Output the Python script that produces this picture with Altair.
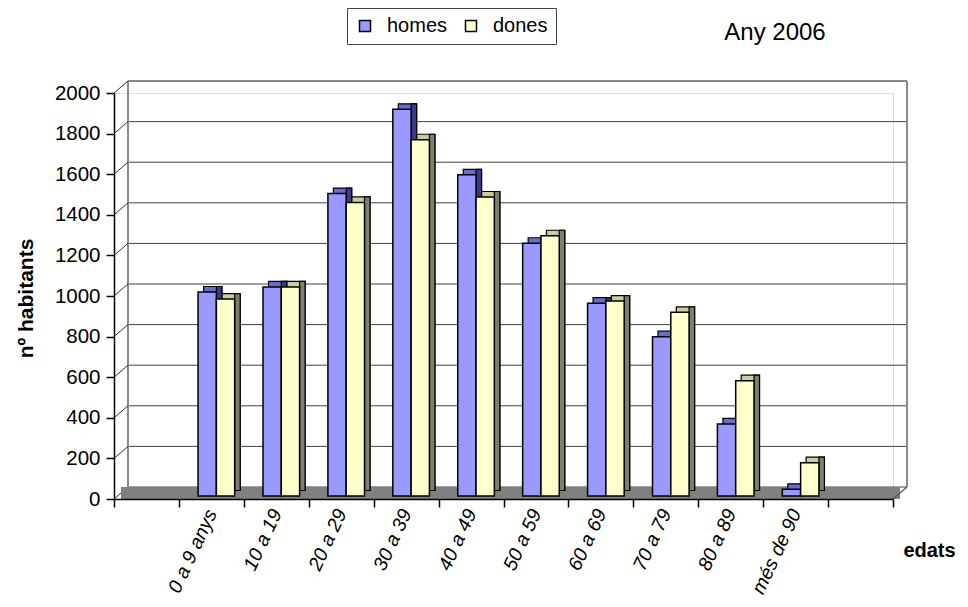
import altair as alt
import pandas as pd

# ---- data ----
cats = ["0 a 9 anys", "10 a 19", "20 a 29", "30 a 39", "40 a 49",
        "50 a 59", "60 a 69", "70 a 79", "80 a 89", "més de 90"]
homes = [1005, 1030, 1490, 1905, 1582, 1245, 950, 785, 355, 33]
dones = [970, 1030, 1446, 1755, 1473, 1282, 960, 905, 568, 164]
series = ["homes", "dones"]
yticks = list(range(0, 2001, 200))
ymax = 2000
TITLE = "Any 2006"
YTITLE = "nº habitants"
XTITLE = "edats"

# ---- layout / style constants ----
W, H = 779, 406
DX, DY = 14, 12          # depth of back wall
FX, FY = 5, 3            # bar front-plane shift
D = 5.5                  # bar depth
BW = 18.3                # bar width (px)

FRONT = {"homes": "#9999ff", "dones": "#ffffcc"}
TOP = {"homes": "#6b6bcc", "dones": "#cccc9e"}
SIDE = {"homes": "#3b3b8c", "dones": "#80806a"}

rows = []
for c, h, d in zip(cats, homes, dones):
    rows.append({"edat": c, "sexe": "homes", "n": h})
    rows.append({"edat": c, "sexe": "dones", "n": d})
bars = pd.DataFrame(rows)
grid = pd.DataFrame({"v": yticks})
span = pd.DataFrame({"lo": [0], "hi": [ymax]})
tdf = pd.DataFrame({"t": [TITLE]})

xdomain = [" "] + cats + ["  "]

yscale = alt.Scale(domain=[0, ymax], nice=False, zero=True)
yaxis = alt.Axis(values=yticks, format="d", grid=False, domainColor="black", domainWidth=1.5,
                 tickColor="black", tickSize=8, tickWidth=1.5, labelFontSize=20.5,
                 labelPadding=6, labelColor="black", labelFlush=False, labelOverlap=False,
                 title=YTITLE, titleFontSize=21, titleFontWeight="bold", titleColor="black",
                 titleAngle=270, titleX=-88, titleY=205, titleAlign="center",
                 titleBaseline="middle", zindex=1)


def Y(field):
    return alt.Y(field, scale=yscale, axis=yaxis)


xaxis = alt.Axis(title=XTITLE, tickBand="extent", tickSize=8, tickColor="black", tickWidth=1.5,
                 domainColor="black", domainWidth=1.5, labelAngle=295, labelAlign="right",
                 labelBaseline="middle", labelFontSize=19.5, labelFontStyle="italic",
                 labelPadding=3, labelColor="black", labelOverlap=False,
                 titleX=815, titleY=51, titleFontSize=20, titleFontWeight="bold",
                 titleColor="black", titleAlign="center", titleBaseline="middle",
                 titleAngle=0, zindex=1)
xenc = alt.X("edat:N", scale=alt.Scale(domain=xdomain, paddingInner=0, paddingOuter=0), axis=xaxis)

# back-wall gridlines
gridback = alt.Chart(grid).mark_rule(color="#404040", strokeWidth=1, yOffset=-DY).encode(
    x=alt.value(DX), x2=alt.value(W + DX), y=Y("v:Q"))
# left-wall diagonals
diag = alt.Chart(grid).mark_rule(color="#333333", strokeWidth=1, y2Offset=-DY).encode(
    x=alt.value(0), x2=alt.value(DX), y=Y("v:Q"), y2=alt.Y2("v:Q"))
# wall edges
wl = alt.Chart(span).mark_rule(color="#8a8a8a", strokeWidth=2, yOffset=-DY, y2Offset=-DY).encode(
    x=alt.value(DX), y=Y("hi:Q"), y2=alt.Y2("lo:Q"))
wr = alt.Chart(span).mark_rule(color="#8a8a8a", strokeWidth=2, yOffset=-DY, y2Offset=-DY).encode(
    x=alt.value(W + DX), y=Y("hi:Q"), y2=alt.Y2("lo:Q"))
wt = alt.Chart(span).mark_rule(color="#8a8a8a", strokeWidth=2, yOffset=-DY).encode(
    x=alt.value(DX), x2=alt.value(W + DX), y=Y("hi:Q"))
# floor
floor = alt.Chart(span).mark_rule(color="#808080", strokeWidth=DY, yOffset=-DY / 2,
                                  xOffset=DX / 2, x2Offset=DX / 2).encode(
    x=alt.value(0), x2=alt.value(W), y=Y("lo:Q"))
floordiag = alt.Chart(span).mark_rule(color="#555555", strokeWidth=1.2, y2Offset=-DY).encode(
    x=alt.value(W), x2=alt.value(W + DX), y=Y("lo:Q"), y2=alt.Y2("lo:Q"))

legend = alt.Legend(orient="none", legendX=233, legendY=-85, direction="horizontal", title=None,
                    symbolType="square", symbolSize=121, symbolStrokeColor="black",
                    symbolStrokeWidth=1.5, symbolOpacity=1, labelFontSize=20, labelOffset=12,
                    columnPadding=13, padding=8, strokeColor="#444444", fillColor="white",
                    labelColor="black")

backs, sides, fronts = [], [], []
for i, s in enumerate(series):
    base = alt.Chart(bars).transform_filter(alt.datum.sexe == s)
    cx = (i - 0.5) * BW + FX
    backs.append(base.mark_bar(width=BW, stroke="black", strokeWidth=1.2, color=TOP[s],
                               xOffset=cx + D, yOffset=-(FY + D), y2Offset=-(FY + D)).encode(
        x=xenc, y=Y("n:Q")))
    sides.append(base.mark_bar(width=D, stroke="black", strokeWidth=1.2, color=SIDE[s],
                               xOffset=cx + BW / 2 + D / 2, yOffset=-(FY + D),
                               y2Offset=-(FY + D)).encode(x=xenc, y=Y("n:Q")))
    fronts.append(base.mark_bar(width=BW, stroke="black", strokeWidth=1.5, opacity=1,
                                xOffset=cx, yOffset=-FY, y2Offset=-FY).encode(
        x=xenc, y=Y("n:Q"),
        color=alt.Color("sexe:N", scale=alt.Scale(domain=series, range=[FRONT[k] for k in series]),
                        legend=legend)))

title = alt.Chart(tdf).mark_text(fontSize=24, align="center", baseline="alphabetic",
                                 color="black").encode(
    text="t:N", x=alt.value(661), y=alt.value(-53))

chart = alt.layer(gridback, wl, wr, wt, diag, floor, floordiag, *backs, *sides, *fronts, title).properties(
    width=W, height=H,
    autosize=alt.AutoSizeParams(type="none"),
    padding={"left": 106, "top": 85, "right": 67, "bottom": 97},
).configure_view(stroke=None).configure(font="Liberation Sans")

chart.save("out.html", embed_options={"renderer": "svg", "actions": False})
